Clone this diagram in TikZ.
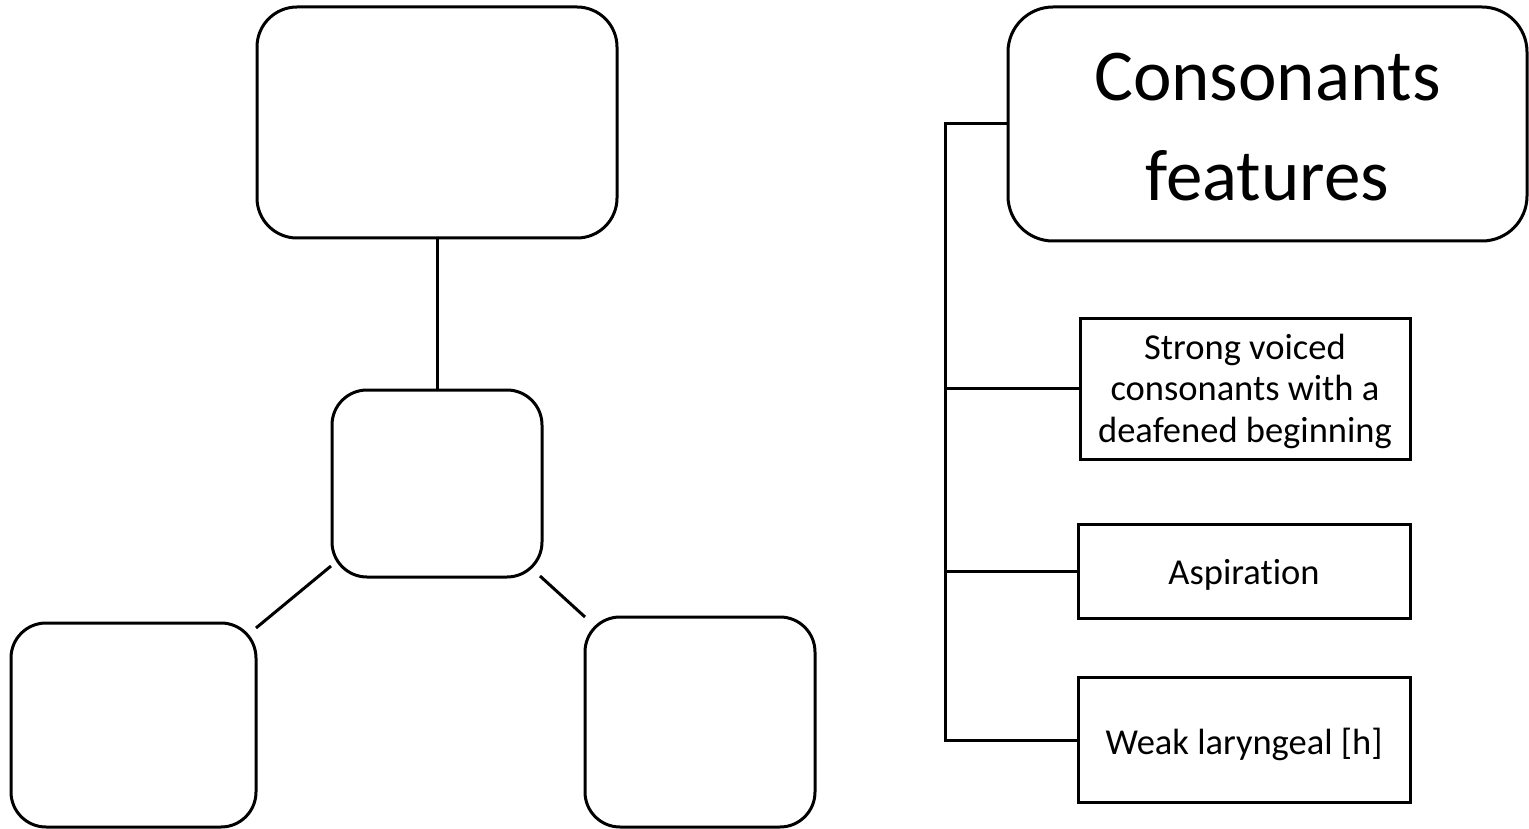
\documentclass[tikz,border=0pt]{standalone}
\usepackage{fontspec}
\setmainfont{Carlito}[Ligatures={NoCommon}]
\usetikzlibrary{calc}
\newcommand{\lowtext}[2]{\raisebox{#1}[\height][\depth]{\begin{tabular}{@{}c@{}}#2\end{tabular}}}
\begin{document}
\begin{tikzpicture}[x=1pt,y=-1pt,
  rbox/.style={draw,line width=3pt,rounded corners=#1,inner sep=0pt,outer sep=0pt},
  rbox/.default=38pt,
  sbox/.style={draw,line width=3pt,inner sep=0pt,outer sep=0pt,
    font=\fontsize{36.5}{41.5}\selectfont},
  conn/.style={line width=3pt}]
\useasboundingbox (0,0) rectangle (1529,829);
% left tree
\node[rbox=40pt,minimum width=360pt,minimum height=231pt] (top) at (437,122.5) {};
\node[rbox=35pt,minimum width=210pt,minimum height=187pt] (mid) at (437,483.5) {};
\node[rbox=35pt,minimum width=245pt,minimum height=204pt] (bl) at (133.5,725) {};
\node[rbox=35pt,minimum width=230pt,minimum height=210pt] (br) at (700,722) {};
\draw[conn] (top.south) -- (mid.north);
\draw[conn] ($(mid.south west)+(-1,-11)$) -- ($(bl.north east)+(0,5)$);
\draw[conn] ($(mid.south east)+(-2,-1)$) -- (br.north west);
% right tree
\node[rbox=45pt,minimum width=519pt,minimum height=234pt,
  font=\fontsize{73}{100}\selectfont] (cons) at (1267.5,124) {\lowtext{-7pt}{Consonants\\features}};
\node[sbox,minimum width=330pt,minimum height=141pt] (strong) at (1245,388.5)
  {\lowtext{-4pt}{Strong voiced\\consonants with a\\deafened beginning}};
\node[sbox,minimum width=332pt,minimum height=94pt] (asp) at (1244,571) {\lowtext{-5pt}{Aspirat\kern0pt ion}};
\node[sbox,minimum width=332pt,minimum height=125pt] (weak) at (1244,740) {\lowtext{-6pt}{Weak laryngeal [h]}};
\coordinate (rail) at (945,0);
\draw[conn] (cons.west) -- (cons.west -| rail) |- (weak.west);
\draw[conn] (strong.west) -- (strong.west -| rail);
\draw[conn] (asp.west) -- (asp.west -| rail);
\end{tikzpicture}
\end{document}
